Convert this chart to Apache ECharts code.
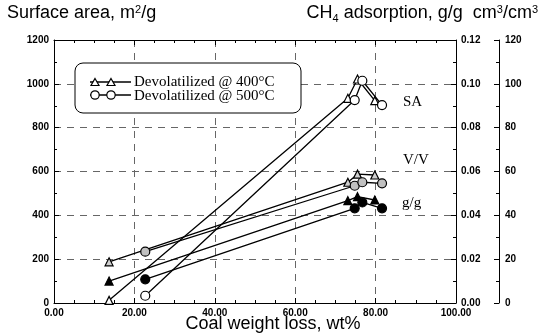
<!DOCTYPE html>
<html>
<head>
<meta charset="utf-8">
<script src="https://cdn.jsdelivr.net/npm/echarts@6/dist/echarts.min.js"></script>
<style>html,body{margin:0;padding:0;background:#fff}#c{width:541px;height:333px}</style>
</head>
<body>
<div id="c"></div>
<script>
// Coal weight loss (wt%) for each devolatilization temperature
const wl400 = [13.7, 73.1, 75.5, 79.8];
const wl500 = [22.7, 74.8, 76.7, 81.6];
// Surface area, m2/g (left axis)
const sa400 = [12, 934, 1022, 923];
const sa500 = [33, 926, 1014, 903];
// CH4 adsorption, cm3/cm3 (outer right axis)
const vv400 = [18.8, 55.1, 58.8, 58.4];
const vv500 = [23.4, 53.5, 55.1, 54.6];
// CH4 adsorption, g/g (inner right axis)
const gg400 = [0.0100, 0.0467, 0.0485, 0.0470];
const gg500 = [0.0108, 0.0432, 0.0459, 0.0432];
// tick settings
const xTicks = {min: 0, max: 100, interval: 20};
const saTicks = {min: 0, max: 1200, interval: 200};
const ggTicks = {min: 0, max: 0.12, interval: 0.02};
const vvTicks = {min: 0, max: 120, interval: 20};

const zip = (a, b) => a.map((v, i) => [v, b[i]]);
const chart = echarts.init(document.getElementById('c'), null, {renderer: 'canvas'});
const black = '#000';
const lblFont = {color: black, fontSize: 10, fontWeight: 'bold', fontFamily: 'Liberation Sans'};
const tick = {show: true, inside: true, length: 5, lineStyle: {color: black, width: 1}};
const minor = {show: true, splitNumber: 2, length: 3, lineStyle: {color: black, width: 1}};
const minorX = {show: true, splitNumber: 4, length: 3, lineStyle: {color: black, width: 1}};
const axLine = {show: true, onZero: false, lineStyle: {color: black, width: 1}};
const grid = {type: [7, 6], color: '#666', width: 1};

function series(name, xs, ys, yIdx, symbol, size, fill) {
  return {
    name, type: 'line', xAxisIndex: 0, yAxisIndex: yIdx,
    data: zip(xs, ys), symbol, symbolSize: size, showAllSymbol: true,
    lineStyle: {color: black, width: 1.3},
    itemStyle: {color: fill, borderColor: black, borderWidth: 1.2},
    z: 3, silent: true
  };
}

const option = {
  animation: false,
  backgroundColor: '#fff',
  grid: {left: 54, right: 85, top: 40, bottom: 30, containLabel: false, outerBoundsMode: 'none'},
  xAxis: [
    {type: 'value', position: 'bottom', ...xTicks, axisLine: axLine, axisTick: tick, minorTick: minorX,
     axisLabel: {...lblFont, margin: 5, formatter: v => v.toFixed(2), showMinLabel: true, showMaxLabel: true},
     splitLine: {show: true, lineStyle: grid}},
    {type: 'value', position: 'top', ...xTicks, axisLine: axLine, axisTick: tick, minorTick: minorX,
     axisLabel: {show: false}, splitLine: {show: false}}
  ],
  yAxis: [
    {type: 'value', position: 'left', ...saTicks, axisLine: axLine, axisTick: tick, minorTick: minor,
     axisLabel: {...lblFont, margin: 5, formatter: v => String(v), showMinLabel: true, showMaxLabel: true},
     splitLine: {show: true, lineStyle: grid}},
    {type: 'value', position: 'right', offset: 0, ...ggTicks, axisLine: axLine, axisTick: tick, minorTick: minor,
     axisLabel: {...lblFont, margin: 5, formatter: v => v.toFixed(2), showMinLabel: true, showMaxLabel: true},
     splitLine: {show: false}},
    {type: 'value', position: 'right', offset: 43, ...vvTicks, axisLine: axLine, axisTick: tick, minorTick: minor,
     axisLabel: {...lblFont, margin: 6, formatter: v => String(v), showMinLabel: true, showMaxLabel: true},
     splitLine: {show: false}}
  ],
  series: [
    series('SA 400', wl400, sa400, 0, 'triangle', 8, '#fff'),
    series('SA 500', wl500, sa500, 0, 'circle', 9, '#fff'),
    series('VV 400', wl400, vv400, 2, 'triangle', 8, '#d0d0d0'),
    series('VV 500', wl500, vv500, 2, 'circle', 9, '#c0c0c0'),
    series('gg 400', wl400, gg400, 1, 'triangle', 8, black),
    series('gg 500', wl500, gg500, 1, 'circle', 9, black)
  ],
  graphic: [
    {type: 'text', left: 7, top: 4, z: 10,
     style: {text: 'Surface area, m{sup|2}/g', fill: black, font: '18px "Liberation Sans"',
       rich: {sup: {fontSize: 11, fontFamily: 'Liberation Sans', padding: [0, 0, 8, 0]}}}},
    {type: 'text', right: 3, top: 4, z: 10,
     style: {text: 'CH{sub|4} adsorption, g/g  cm{sup|3}/cm{sup|3}', fill: black, font: '18px "Liberation Sans"',
       rich: {sub: {fontSize: 11, fontFamily: 'Liberation Sans', padding: [10, 0, 0, 0]},
              sup: {fontSize: 11, fontFamily: 'Liberation Sans', padding: [0, 0, 8, 0]}}}},
    {type: 'text', x: 273, y: 324, z: 10,
     style: {text: 'Coal weight loss, wt%', fill: black, font: '18px "Liberation Sans"', align: 'center', verticalAlign: 'middle'}},
    // legend box
    {type: 'rect', z: 5, shape: {x: 75, y: 63, width: 226, height: 50, r: 8},
     style: {fill: '#fff', stroke: black, lineWidth: 1}},
    {type: 'line', z: 6, shape: {x1: 90, y1: 82, x2: 131, y2: 82}, style: {stroke: black, lineWidth: 1.3}},
    {type: 'line', z: 6, shape: {x1: 90, y1: 95, x2: 131, y2: 95}, style: {stroke: black, lineWidth: 1.3}},
    {type: 'polygon', z: 7, shape: {points: [[95, 78.5], [99, 85.5], [91, 85.5]]}, style: {fill: '#fff', stroke: black, lineWidth: 1.2}},
    {type: 'polygon', z: 7, shape: {points: [[111, 78.5], [115, 85.5], [107, 85.5]]}, style: {fill: '#fff', stroke: black, lineWidth: 1.2}},
    {type: 'circle', z: 7, shape: {cx: 95, cy: 95, r: 4.2}, style: {fill: '#fff', stroke: black, lineWidth: 1.2}},
    {type: 'circle', z: 7, shape: {cx: 111, cy: 95, r: 4.2}, style: {fill: '#fff', stroke: black, lineWidth: 1.2}},
    {type: 'text', z: 7, x: 134, y: 82, style: {text: 'Devolatilized @ 400°C', fill: black, font: '15px "Liberation Serif"', verticalAlign: 'middle'}},
    {type: 'text', z: 7, x: 134, y: 96, style: {text: 'Devolatilized @ 500°C', fill: black, font: '15px "Liberation Serif"', verticalAlign: 'middle'}},
    // series annotations
    {type: 'text', z: 7, x: 403, y: 102, style: {text: 'SA', fill: black, font: '15px "Liberation Serif"', verticalAlign: 'middle'}},
    {type: 'text', z: 7, x: 403, y: 160, style: {text: 'V/V', fill: black, font: '15px "Liberation Serif"', verticalAlign: 'middle'}},
    {type: 'text', z: 7, x: 402, y: 203, style: {text: 'g/g', fill: black, font: '15px "Liberation Serif"', verticalAlign: 'middle'}}
  ]
};
chart.setOption(option);
</script>
</body>
</html>
